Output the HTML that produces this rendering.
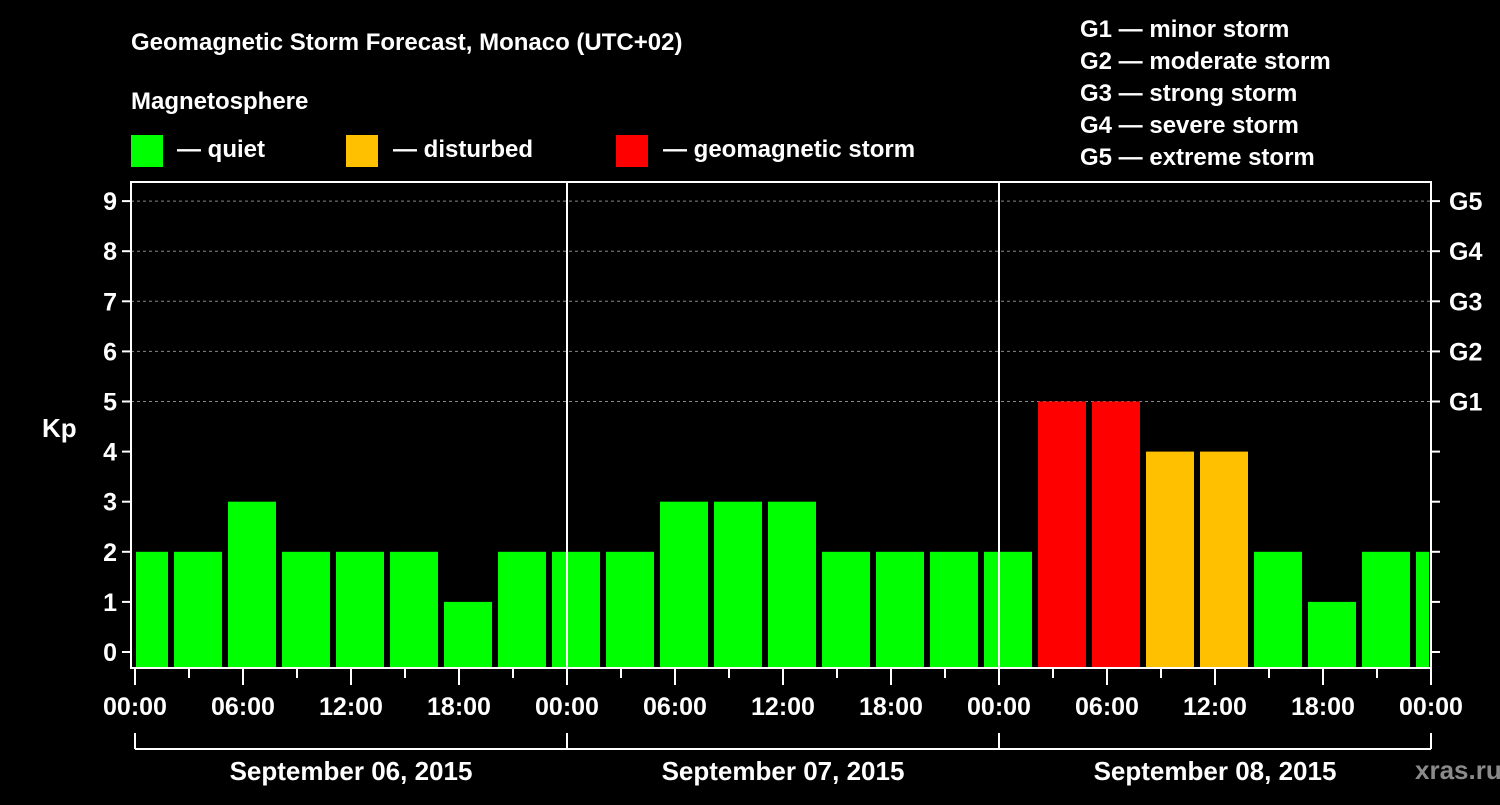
<!DOCTYPE html>
<html><head><meta charset="utf-8"><style>
html,body{margin:0;padding:0;background:#000;}
svg text{font-family:"Liberation Sans",sans-serif;font-weight:bold;fill:#fff;}
</style></head><body>
<svg id="c" width="1500" height="800" xmlns="http://www.w3.org/2000/svg">
<rect x="0" y="0" width="1500" height="800" fill="#000"/>
<text x="131" y="50" font-size="24">Geomagnetic Storm Forecast, Monaco (UTC+02)</text>
<text x="131" y="109" font-size="24">Magnetosphere</text>
<g><rect x="131" y="135" width="32" height="32" fill="#00ff00"/><text x="177" y="157" font-size="24">— quiet</text></g>
<g><rect x="346" y="135" width="32" height="32" fill="#ffc000"/><text x="393" y="157" font-size="24">— disturbed</text></g>
<g><rect x="616" y="135" width="32" height="32" fill="#ff0000"/><text x="663" y="157" font-size="24">— geomagnetic storm</text></g>
<g font-size="24">
<text x="1080" y="37">G1 — minor storm</text>
<text x="1080" y="69">G2 — moderate storm</text>
<text x="1080" y="101">G3 — strong storm</text>
<text x="1080" y="133">G4 — severe storm</text>
<text x="1080" y="165">G5 — extreme storm</text>
</g>
<text x="42" y="437" font-size="26">Kp</text>
<text x="1415" y="779" font-size="26" fill="#888" style="fill:#8a8a8a">xras.ru</text>
<g id="g"></g>
</svg>
<script>
const values=[2,2,3,2,2,2,1,2,2,2,3,3,3,2,2,2,2,5,5,4,4,2,1,2,2];
const yTicks=["0","1","2","3","4","5","6","7","8","9"];
const gLabels=["G1","G2","G3","G4","G5"];
const dayLabels=["September 06, 2015","September 07, 2015","September 08, 2015"];
const xTickLabels=["00:00","06:00","12:00","18:00","00:00","06:00","12:00","18:00","00:00","06:00","12:00","18:00","00:00"];
const firstSlotHour=-1, slotHours=3;
const L=131,R=1431,T=182,B=668,X0=135,PXH=18;
const xs=h=>X0+h*PXH;
const ys=v=>652-v*50.1;
const ns="http://www.w3.org/2000/svg";
const g=document.getElementById('g');
function mk(t,a){const e=document.createElementNS(ns,t);for(const k in a)e.setAttribute(k,a[k]);g.appendChild(e);return e;}
function col(v){return v>=5?"#ff0000":(v>=4?"#ffc000":"#00ff00");}
// grid
for(let v=5;v<=9;v++){const e=mk('line',{x1:L,x2:R,y1:ys(v),y2:ys(v),stroke:'#888','stroke-dasharray':'3,3','stroke-width':1});

}
// bars
values.forEach((v,i)=>{let x1=xs(firstSlotHour+i*slotHours)+3,x2=x1+48;x1=Math.max(x1,X0+1);x2=Math.min(x2,R-2);
const e=mk('rect',{x:x1,y:ys(v),width:x2-x1,height:B-ys(v),fill:col(v)});

});
// day separators
for(let d=1;d<3;d++){const e=mk('line',{x1:xs(24*d),x2:xs(24*d),y1:T,y2:B,stroke:'#fff','stroke-width':2});

}
// frame
const fr=mk('rect',{x:L,y:T,width:R-L,height:B-T,fill:'none',stroke:'#fff','stroke-width':2});


// y ticks
yTicks.forEach((t,v)=>{mk('line',{x1:L-9,x2:L,y1:ys(v),y2:ys(v),stroke:'#fff','stroke-width':2});
mk('line',{x1:R,x2:R+9,y1:ys(v),y2:ys(v),stroke:'#fff','stroke-width':2});
const e=mk('text',{x:L-14,y:ys(v)+9,'font-size':25,'text-anchor':'end'});e.textContent=t;

});
gLabels.forEach((t,i)=>{const e=mk('text',{x:R+18,y:ys(5+i)+9,'font-size':25});e.textContent=t;

});
// x ticks
for(let h=0;h<=72;h+=3){const big=h%6===0;mk('line',{x1:xs(h),x2:xs(h),y1:B,y2:B+(big?17:10),stroke:'#fff','stroke-width':2});}
xTickLabels.forEach((t,i)=>{const e=mk('text',{x:xs(i*6),y:715,'font-size':25,'text-anchor':'middle'});e.textContent=t;

});
// bracket
mk('line',{x1:xs(0),x2:xs(72),y1:749,y2:749,stroke:'#fff','stroke-width':2});
for(let d=0;d<=3;d++)mk('line',{x1:xs(24*d),x2:xs(24*d),y1:733,y2:749,stroke:'#fff','stroke-width':2});
dayLabels.forEach((t,d)=>{const e=mk('text',{x:xs(24*d+12),y:780,'font-size':26,'text-anchor':'middle'});e.textContent=t;

});
</script>
</body></html>
